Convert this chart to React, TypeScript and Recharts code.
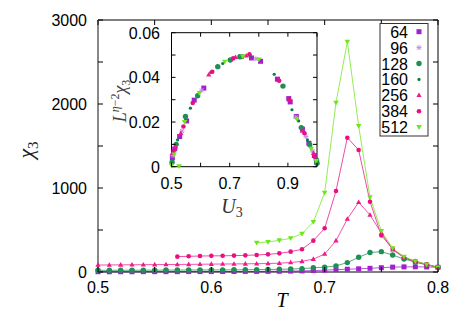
import React from 'react';
import {
  LineChart,
  Line,
  XAxis,
  YAxis,
  ReferenceLine,
  ScatterChart,
  Scatter,
} from 'recharts';

// temperatures of the main panel
const temps = [
  0.5, 0.51, 0.52, 0.53, 0.54, 0.55, 0.56, 0.57, 0.58, 0.59, 0.6, 0.61, 0.62,
  0.63, 0.64, 0.65, 0.66, 0.67, 0.68, 0.69, 0.7, 0.71, 0.72, 0.73, 0.74, 0.75,
  0.76, 0.77, 0.78, 0.79, 0.8,
];

// chi_3 per system size (starting at the temperature given in seriesStart)
const chi64 = [
  3, 3, 3, 3, 4, 4, 4, 4, 5, 5, 5, 6, 6, 7, 7, 8, 9, 11, 13, 17, 22, 28, 33,
  38, 44, 51, 58, 61, 62, 60, 56,
];
const chi128 = [
  20, 20, 21, 21, 22, 22, 23, 23, 24, 24, 25, 25, 26, 27, 28, 30, 32, 35, 40,
  50, 58, 73, 112, 175, 232, 242, 202, 155, 118, 86, 58,
];
const chi256 = [
  83, 84, 85, 86, 87, 88, 89, 90, 91, 92, 94, 95, 96, 97, 99, 101, 105, 113,
  127, 153, 214, 373, 631, 830, 679, 465, 265, 170, 118, 86, 57,
];
const chi384 = [
  183, 187, 190, 192, 193, 195, 198, 203, 210, 222, 242, 270, 373, 520, 964,
  1599, 1452, 837, 436, 276, 176, 129, 92, 56,
];
const chi512 = [
  349, 357, 377, 401, 456, 595, 944, 2016, 2742, 1738, 889, 488, 282, 182, 128,
  90, 55,
];
const seriesStart = { 64: 0.5, 128: 0.5, 256: 0.5, 384: 0.57, 512: 0.64 };

// inset: L^{eta-2} chi_3 against U_3
const inset64 = [
  [0.503, 0.004], [0.511, 0.008], [0.528, 0.0135], [0.552, 0.0205],
  [0.578, 0.0298], [0.611, 0.0352], [0.74, 0.0493], [0.775, 0.0487],
  [0.806, 0.0472], [0.864, 0.0392], [0.903, 0.0305], [0.908, 0.029],
  [0.929, 0.0225], [0.95, 0.0168], [0.972, 0.0105], [0.991, 0.005],
  [0.999, 0.002],
];
const inset96 = [
  [0.505, 0.005], [0.536, 0.016], [0.604, 0.0342], [0.79, 0.0483],
  [0.927, 0.0222], [0.962, 0.0135], [0.985, 0.007],
];
const inset128 = [
  [0.502, 0.002], [0.516, 0.01], [0.548, 0.0225], [0.59, 0.0318],
  [0.659, 0.0448], [0.702, 0.0478], [0.735, 0.0492], [0.883, 0.0361],
  [0.946, 0.0175], [0.975, 0.0098], [0.998, 0.003], [1.0, 0.0015],
];
const inset160 = [
  [0.501, 0.001], [0.521, 0.012], [0.565, 0.0262], [0.635, 0.0422],
  [0.676, 0.0462], [0.77, 0.0496], [0.853, 0.0414], [0.914, 0.0255],
  [0.937, 0.0205], [0.967, 0.012], [0.994, 0.004],
];
const inset256 = [
  [0.503, 0.006], [0.514, 0.009], [0.532, 0.015], [0.628, 0.0412],
  [0.72, 0.049], [0.757, 0.0497], [0.868, 0.0388], [0.95, 0.016],
  [0.988, 0.006],
];
const inset384 = [
  [0.507, 0.007], [0.541, 0.018], [0.573, 0.0285], [0.64, 0.0425],
  [0.712, 0.0485], [0.768, 0.0503], [0.87, 0.0385], [0.905, 0.0298],
  [0.957, 0.015], [0.992, 0.0045],
];
const inset512 = [
  [0.5, 0.0005], [0.509, 0.0055], [0.526, 0.0002], [0.545, 0.02],
  [0.596, 0.033], [0.683, 0.047], [0.745, 0.0494], [0.8, 0.048],
  [0.93, 0.0215], [0.98, 0.008], [0.997, 0.0025],
];

const mainXTicks = [0.5, 0.55, 0.6, 0.65, 0.7, 0.75, 0.8];
const mainYTicks = [0, 500, 1000, 1500, 2000, 2500, 3000];
const insetXTicks = [0.5, 0.6, 0.7, 0.8, 0.9, 1.0];
const insetYTicks = [0, 0.01, 0.02, 0.03, 0.04, 0.05, 0.06];

const sizes = [
  { L: 64, color: '#a020d0', shape: 'square', main: chi64, inset: inset64 },
  { L: 96, color: '#c98ae8', shape: 'star', main: null, inset: inset96 },
  { L: 128, color: '#1f8f55', shape: 'circle', main: chi128, inset: inset128 },
  { L: 160, color: '#0f7a42', shape: 'dot', main: null, inset: inset160 },
  { L: 256, color: '#f0188c', shape: 'triangle', main: chi256, inset: inset256 },
  { L: 384, color: '#e8107f', shape: 'pcircle', main: chi384, inset: inset384 },
  { L: 512, color: '#6ee61e', shape: 'tridown', main: chi512, inset: inset512 },
];

const SANS = "'Liberation Sans', Arial, sans-serif";
const SERIF = "'Liberation Serif', 'DejaVu Serif', serif";

// main plot box (page px)
const M = { left: 98, right: 438, top: 20, bottom: 272 };
// inset chart placement and box (local px)
const INSET = { x: 100, y: 20, w: 230, h: 200 };
const I = { left: 71.5, right: 217, top: 12.7, bottom: 146.7 };

const rows = temps.map((t, i) => {
  const row: any = { t };
  sizes.forEach((s) => {
    if (!s.main) return;
    const off = Math.round((seriesStart[s.L] - 0.5) * 100);
    const v = s.main[i - off];
    row['L' + s.L] = i >= off && v !== undefined ? v : null;
  });
  return row;
});

function Marker({ x, y, shape, color }) {
  if (x == null || y == null || isNaN(x) || isNaN(y)) return null;
  switch (shape) {
    case 'square':
      return <rect x={x - 2.5} y={y - 2.5} width={5} height={5} fill={color} />;
    case 'circle':
      return <circle cx={x} cy={y} r={2.7} fill={color} />;
    case 'pcircle':
      return <circle cx={x} cy={y} r={2.3} fill={color} />;
    case 'dot':
      return <circle cx={x} cy={y} r={1.6} fill={color} />;
    case 'triangle':
      return (
        <path
          d={`M${x},${y - 2.8}L${x + 2.6},${y + 1.8}L${x - 2.6},${y + 1.8}Z`}
          fill={color}
        />
      );
    case 'tridown':
      return (
        <path
          d={`M${x},${y + 2.8}L${x + 2.8},${y - 2}L${x - 2.8},${y - 2}Z`}
          fill={color}
        />
      );
    case 'star':
      return (
        <path
          d={`M${x - 2.5},${y}H${x + 2.5}M${x},${y - 2.5}V${y + 2.5}M${x - 2},${y - 2}L${x + 2},${y + 2}M${x - 2},${y + 2}L${x + 2},${y - 2}`}
          stroke={color}
          strokeWidth={1}
        />
      );
    default:
      return null;
  }
}

const MainXTick = ({ x, payload }) => {
  const v = payload.value;
  const major = Math.abs(v * 10 - Math.round(v * 10)) < 1e-6;
  return (
    <g>
      <line x1={x} x2={x} y1={M.bottom} y2={M.bottom - 5} stroke="#000" />
      <line x1={x} x2={x} y1={M.top} y2={M.top + 5} stroke="#000" />
      {major && (
        <text x={x} y={293} textAnchor="middle" fontFamily={SANS} fontSize={16}>
          {v.toFixed(1)}
        </text>
      )}
    </g>
  );
};

const MainYTick = ({ y, payload }) => {
  const v = payload.value;
  return (
    <g>
      <line x1={M.left} x2={M.left + 5} y1={y} y2={y} stroke="#000" />
      <line x1={M.right} x2={M.right - 5} y1={y} y2={y} stroke="#000" />
      {v % 1000 === 0 && (
        <text x={87} y={y + 6} textAnchor="end" fontFamily={SANS} fontSize={16}>
          {v}
        </text>
      )}
    </g>
  );
};

const InsetXTick = ({ x, payload }) => {
  const v = payload.value;
  const lab = [0.5, 0.7, 0.9].some((m) => Math.abs(m - v) < 1e-6);
  return (
    <g>
      <line x1={x} x2={x} y1={I.bottom} y2={I.bottom - 4} stroke="#000" />
      <line x1={x} x2={x} y1={I.top} y2={I.top + 4} stroke="#000" />
      {lab && (
        <text x={x} y={169.3} textAnchor="middle" fontFamily={SANS} fontSize={16}>
          {v.toFixed(1)}
        </text>
      )}
    </g>
  );
};

const InsetYTick = ({ y, payload }) => {
  const v = payload.value;
  const k = Math.round(v * 100);
  return (
    <g>
      <line x1={I.left} x2={I.left + 4} y1={y} y2={y} stroke="#000" />
      <line x1={I.right} x2={I.right - 4} y1={y} y2={y} stroke="#000" />
      {k % 2 === 0 && (
        <text x={60} y={y + 6} textAnchor="end" fontFamily={SANS} fontSize={16}>
          {k === 0 ? '0' : v.toFixed(2)}
        </text>
      )}
    </g>
  );
};

function Legend() {
  return (
    <svg
      width={463}
      height={325}
      style={{ position: 'absolute', left: 0, top: 0, pointerEvents: 'none' }}
    >
      <rect x={380} y={23.5} width={48} height={112.5} fill="#fff" stroke="#333" />
      {sizes.map((s, i) => {
        const y = 31.7 + i * 15.9;
        return (
          <g key={s.L}>
            <text x={408} y={y + 6} textAnchor="end" fontFamily={SANS} fontSize={16}>
              {s.L}
            </text>
            <Marker x={419} y={y} shape={s.shape} color={s.color} />
          </g>
        );
      })}
      <text x={282} y={307} textAnchor="middle" fontFamily={SERIF} fontStyle="italic" fontSize={20}>
        T
      </text>
      <text
        transform="translate(33,150) rotate(-90)"
        textAnchor="middle"
        fontFamily={SERIF}
        fontStyle="italic"
        fontSize={22}
        fill="#222"
      >
        χ<tspan dy={5} fontSize={15} fontStyle="normal">3</tspan>
      </text>
      <text x={232} y={213} textAnchor="middle" fontFamily={SERIF} fontStyle="italic" fontSize={20} fill="#333">
        U<tspan dy={4} fontSize={14} fontStyle="normal">3</tspan>
      </text>
      <text
        transform="translate(126,101) rotate(-90)"
        textAnchor="middle"
        fontFamily={SERIF}
        fontStyle="italic"
        fontSize={18}
        fill="#444"
      >
        L<tspan dy={-7} fontSize={12}>η</tspan>
        <tspan fontSize={12} fontStyle="normal">−2</tspan>
        <tspan dy={7}>χ</tspan>
        <tspan dy={4} fontSize={12} fontStyle="normal">3</tspan>
      </text>
    </svg>
  );
}

export default function App() {
  return (
    <div style={{ position: 'absolute', left: 0, top: 0, width: 463, height: 325, background: '#fff' }}>
      <LineChart
        width={463}
        height={325}
        data={rows}
        margin={{ top: M.top, right: 463 - M.right, left: M.left - 60, bottom: 325 - M.bottom - 30 }}
      >
        <XAxis
          dataKey="t"
          type="number"
          domain={[0.5, 0.8]}
          ticks={mainXTicks}
          height={30}
          tickLine={false}
          axisLine={{ stroke: '#000' }}
          tick={(p) => <MainXTick {...p} />}
          interval={0}
        />
        <YAxis
          type="number"
          domain={[0, 3000]}
          ticks={mainYTicks}
          width={60}
          tickLine={false}
          axisLine={{ stroke: '#888', strokeWidth: 2 }}
          tick={(p) => <MainYTick {...p} />}
          interval={0}
        />
        <ReferenceLine y={3000} stroke="#000" />
        <ReferenceLine x={0.8} stroke="#000" />
        {sizes
          .filter((s) => s.main)
          .map((s) => (
            <Line
              key={s.L}
              dataKey={'L' + s.L}
              type="linear"
              stroke={s.color}
              strokeOpacity={0.75}
              strokeWidth={1}
              isAnimationActive={false}
              connectNulls={false}
              dot={(p) => (
                <Marker key={p.key ?? p.index} x={p.cx} y={p.cy} shape={s.shape} color={s.color} />
              )}
              activeDot={false}
            />
          ))}
      </LineChart>

      <div style={{ position: 'absolute', left: INSET.x, top: INSET.y }}>
        <ScatterChart
          width={INSET.w}
          height={INSET.h}
          margin={{ top: I.top, right: INSET.w - I.right, left: I.left - 40, bottom: INSET.h - I.bottom - 25 }}
        >
          <XAxis
            dataKey="u"
            type="number"
            domain={[0.5, 1.0]}
            ticks={insetXTicks}
            height={25}
            tickLine={false}
            axisLine={{ stroke: '#000' }}
            tick={(p) => <InsetXTick {...p} />}
            interval={0}
          />
          <YAxis
            dataKey="v"
            type="number"
            domain={[0, 0.06]}
            ticks={insetYTicks}
            width={40}
            tickLine={false}
            axisLine={{ stroke: '#000' }}
            tick={(p) => <InsetYTick {...p} />}
            interval={0}
          />
          <ReferenceLine y={0.06} stroke="#000" />
          <ReferenceLine x={1.0} stroke="#000" />
          {sizes.map((s) => (
            <Scatter
              key={s.L}
              data={s.inset.map(([u, v]) => ({ u, v }))}
              isAnimationActive={false}
              shape={(p) => <Marker x={p.cx} y={p.cy} shape={s.shape} color={s.color} />}
            />
          ))}
        </ScatterChart>
      </div>
      <Legend />
    </div>
  );
}
